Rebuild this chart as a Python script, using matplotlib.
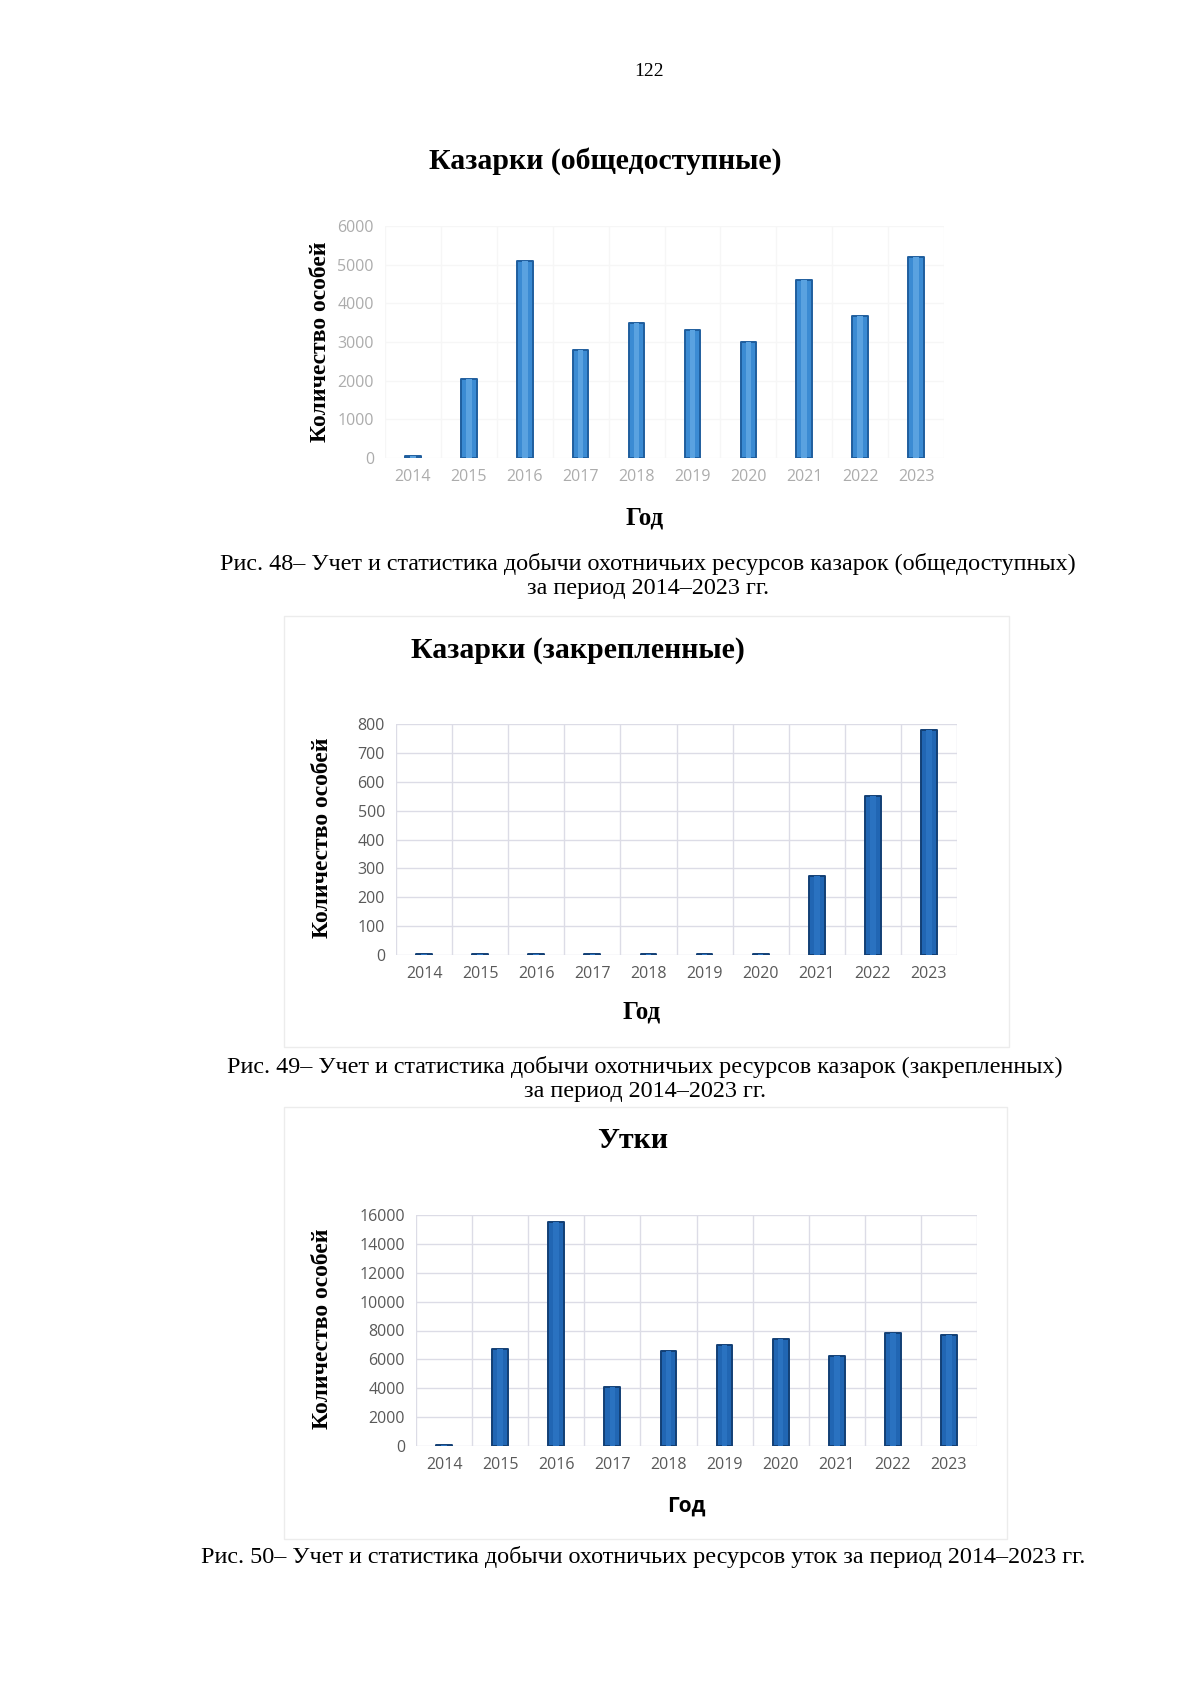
import numpy as np
import matplotlib
matplotlib.use('Agg')
import matplotlib.pyplot as plt
from matplotlib.patches import Rectangle

years = ['2014', '2015', '2016', '2017', '2018', '2019', '2020', '2021', '2022', '2023']

# казарки (общедоступные)
geese_public = [40, 2050, 5100, 2800, 3500, 3300, 3000, 4600, 3680, 5190]
# казарки (закрепленные)
geese_assigned = [3, 3, 3, 3, 3, 3, 3, 275, 550, 780]
# утки
ducks = [80, 6700, 15500, 4100, 6600, 7000, 7400, 6200, 7800, 7700]

titles = ['Казарки (общедоступные)', 'Казарки (закрепленные)', 'Утки']
captions = [
    'Рис. 48– Учет и статистика добычи охотничьих ресурсов казарок (общедоступных)\nза период 2014–2023 гг.',
    'Рис. 49– Учет и статистика добычи охотничьих ресурсов казарок (закрепленных)\nза период 2014–2023 гг.',
    'Рис. 50– Учет и статистика добычи охотничьих ресурсов уток за период 2014–2023 гг.',
]
y_limits = [(6000, 1000), (800, 100), (16000, 2000)]

W, H = 1200, 1697
serif = 'Liberation Serif'
sans = 'Open Sans'

fig = plt.figure(figsize=(W / 100, H / 100), dpi=100)
fig.patch.set_facecolor('white')


def fx(x):
    return x / W


def fy(y):
    return 1 - y / H


fig.text(fx(649), fy(72), '122', family=serif, fontsize=14, ha='center', va='center')

# layout in page pixels: axes box, title, ylabel, "Год", caption, frame
layout = [
    dict(box=(385, 226, 944, 458), title=(605, 161), ylab=(320, 342), god=(645, 518),
         cap=(648, 576), frame=None, bar='#3b8bd3', hi='#5aa2e0', edge='#1f5e9e',
         tick='#acacac', grid='#f6f6f6', godfont=serif, godsize=18),
    dict(box=(396, 724, 957, 955), title=(578, 650), ylab=(322, 838), god=(642, 1012),
         cap=(645, 1079), frame=(284, 616, 1009, 1047), bar='#2166b3', hi='#2a72c0',
         edge='#123f75', tick='#595959', grid='#dcdce6', godfont=serif, godsize=18),
    dict(box=(416, 1215, 977, 1446), title=(633, 1140), ylab=(322, 1329), god=(686, 1506),
         cap=(643, 1557), frame=(284, 1107, 1007, 1539), bar='#2166b3', hi='#2a72c0',
         edge='#123f75', tick='#595959', grid='#dcdce6', godfont=sans, godsize=15),
]

data = [geese_public, geese_assigned, ducks]

for i, (vals, lay) in enumerate(zip(data, layout)):
    x0, y0, x1, y1 = lay['box']
    if lay['frame'] is not None:
        a0, b0, a1, b1 = lay['frame']
        fig.patches.append(Rectangle((fx(a0), fy(b1)), fx(a1 - a0), (b1 - b0) / H,
                                     transform=fig.transFigure, fill=False,
                                     edgecolor='#ececec', linewidth=1.0))
    ax = fig.add_axes([fx(x0), fy(y1), fx(x1 - x0), (y1 - y0) / H])
    xpos = np.arange(len(years))
    ax.bar(xpos, vals, width=0.28, color=lay['bar'], edgecolor=lay['edge'],
           linewidth=1.4, joinstyle='round', zorder=3)
    # lighter centre for the cylinder look
    ax.bar(xpos, vals, width=0.1, color=lay['hi'], linewidth=0, zorder=4)
    ymax, step = y_limits[i]
    ax.set_ylim(0, ymax)
    ax.set_xlim(-0.5, len(years) - 0.5)
    ax.set_yticks(np.arange(0, ymax + 1, step))
    ax.set_xticks(xpos)
    ax.set_xticklabels(years)
    ax.set_xticks(np.arange(-0.5, len(years), 1), minor=True)
    ax.grid(axis='y', which='major', color=lay['grid'], linewidth=1.0, zorder=0)
    ax.grid(axis='x', which='minor', color=lay['grid'], linewidth=1.0, zorder=0)
    ax.tick_params(axis='both', which='both', length=0, labelsize=11.5,
                   labelcolor=lay['tick'], pad=8)
    for lbl in ax.get_xticklabels() + ax.get_yticklabels():
        lbl.set_family(sans)
    for s in ax.spines.values():
        s.set_visible(False)

    fig.text(fx(lay['title'][0]), fy(lay['title'][1]), titles[i], family=serif,
             fontweight='bold', fontsize=21.5, ha='center', va='center')
    fig.text(fx(lay['ylab'][0]), fy(lay['ylab'][1]), 'Количество особей', family=serif,
             fontweight='bold', fontsize=17, rotation=90, ha='center', va='center')
    fig.text(fx(lay['god'][0]), fy(lay['god'][1]), 'Год', family=lay['godfont'],
             fontweight='bold', fontsize=lay['godsize'], ha='center', va='center')
    fig.text(fx(lay['cap'][0]), fy(lay['cap'][1]), captions[i], family=serif,
             fontsize=17.4, ha='center', va='center', linespacing=1.2)

fig.savefig('out.png', dpi=100, facecolor='white')
